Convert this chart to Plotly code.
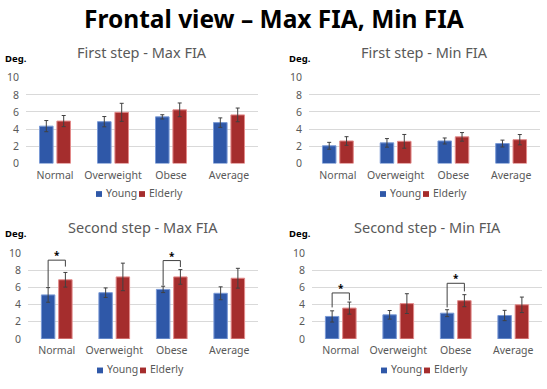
import plotly.graph_objects as go

# ---------------- data ----------------
categories = ["Normal", "Overweight", "Obese", "Average"]
series_names = ["Young", "Elderly"]

panel_titles = ["First step - Max FIA", "First step - Min FIA",
                "Second step - Max FIA", "Second step - Min FIA"]

first_max_young = [4.35, 4.87, 5.43, 4.76]
first_max_young_err = [0.65, 0.60, 0.25, 0.55]
first_max_elderly = [4.94, 5.96, 6.25, 5.66]
first_max_elderly_err = [0.65, 1.05, 0.80, 0.80]

first_min_young = [2.06, 2.40, 2.62, 2.32]
first_min_young_err = [0.40, 0.50, 0.35, 0.40]
first_min_elderly = [2.62, 2.58, 3.10, 2.77]
first_min_elderly_err = [0.50, 0.80, 0.50, 0.60]

second_max_young = [5.11, 5.37, 5.75, 5.30]
second_max_young_err = [0.85, 0.55, 0.37, 0.75]
second_max_elderly = [6.87, 7.20, 7.20, 7.05]
second_max_elderly_err = [0.85, 1.60, 0.85, 1.15]

second_min_young = [2.61, 2.80, 2.99, 2.72]
second_min_young_err = [0.65, 0.50, 0.40, 0.60]
second_min_elderly = [3.58, 4.10, 4.44, 3.96]
second_min_elderly_err = [0.70, 1.15, 0.70, 0.90]

# significance brackets: (category index, left leg bottom, right leg bottom, bracket top)
second_max_sig = [(0, 6.05, 8.40, 9.15), (2, 6.20, 8.35, 9.10)]
second_min_sig = [(0, 3.66, 4.48, 5.34), (2, 3.66, 5.52, 6.46)]

y_ticks = [0, 2, 4, 6, 8, 10]

# ---------------- style ----------------
W, H = 547, 389
BLUE = "#2F58A8"
BLUE_EDGE = "#7A9AD6"
RED = "#A52D2D"
RED_EDGE = "#E38A8A"
GRID = "#D9D9D9"
TEXT = "#595959"
ERR = "#404040"
FONT = "Noto Sans"
BARGAP = 0.40
BARGROUPGAP = 0.22

# pixel boxes of each plot area (x0, x1, ytop, ybottom)
boxes = [(26, 258, 73.3, 162.3), (309, 540, 73.3, 162.3),
         (28, 258, 255, 344.3), (312, 542, 255, 344.3)]
title_y = [47, 47, 228, 228]
deg_pos = [(3, 53), (287, 53), (3, 235), (287, 235)]
legend_pos = [(136, 194), (420, 194), (137, 377), (421, 377)]

panels = [
    (first_max_young, first_max_young_err, first_max_elderly, first_max_elderly_err, []),
    (first_min_young, first_min_young_err, first_min_elderly, first_min_elderly_err, []),
    (second_max_young, second_max_young_err, second_max_elderly, second_max_elderly_err, second_max_sig),
    (second_min_young, second_min_young_err, second_min_elderly, second_min_elderly_err, second_min_sig),
]

fig = go.Figure()
annotations = []
shapes = []
layout = {}

half_slot = (1 - BARGAP) / 4.0  # offset of each bar center from category center


def px_x(v):
    return v / W


def px_y(v):
    return 1 - v / H


for i, (yv, ye, ev, ee, sig) in enumerate(panels):
    n = i + 1
    sfx = "" if n == 1 else str(n)
    xa, ya = "x" + sfx, "y" + sfx
    for name, vals, errs, col, edge in [("Young", yv, ye, BLUE, BLUE_EDGE),
                                        ("Elderly", ev, ee, RED, RED_EDGE)]:
        fig.add_trace(go.Bar(
            x=categories, y=vals, name=name, xaxis=xa, yaxis=ya,
            marker=dict(color=col, line=dict(color=edge, width=1)),
            error_y=dict(type="data", array=errs, visible=True, color=ERR,
                         thickness=1, width=2),
            showlegend=False,
        ))
    x0, x1, yt, yb = boxes[i]
    layout["xaxis" + sfx] = dict(
        domain=[px_x(x0), px_x(x1)], anchor=ya, type="category",
        showgrid=False, showline=False, zeroline=False, ticks="",
        tickfont=dict(size=10.5, color=TEXT, family=FONT),
        ticklabelstandoff=4, fixedrange=True,
    )
    layout["yaxis" + sfx] = dict(
        domain=[px_y(yb), px_y(yt)], anchor=xa, range=[0, 10],
        tickvals=y_ticks, showgrid=True, gridcolor=GRID, gridwidth=1,
        zeroline=False, showline=False, ticks="",
        tickfont=dict(size=10.5, color=TEXT, family=FONT),
        ticklabelstandoff=6, fixedrange=True,
    )
    # legend (square swatch + text) per panel
    lx, ly = legend_pos[i]
    for (sq0, tx, col, name) in [(-40, -32, BLUE, series_names[0]),
                                 (3, 11, RED, series_names[1])]:
        shapes.append(dict(type="rect", xref="paper", yref="paper",
                           x0=px_x(lx + sq0), x1=px_x(lx + sq0 + 6),
                           y0=px_y(ly + 3), y1=px_y(ly - 3),
                           fillcolor=col, line=dict(width=0)))
        annotations.append(dict(
            text=name, xref="paper", yref="paper", x=px_x(lx + tx), y=px_y(ly - 1),
            xanchor="left", yanchor="middle", showarrow=False,
            font=dict(size=10.5, color=TEXT, family=FONT),
        ))
    annotations.append(dict(
        text=panel_titles[i], xref="paper", yref="paper",
        x=px_x((x0 + x1) / 2), y=px_y(title_y[i]), xanchor="center", yanchor="middle",
        showarrow=False, font=dict(size=14.5, color=TEXT, family=FONT),
    ))
    dx, dy = deg_pos[i]
    annotations.append(dict(
        text="<b>Deg.</b>", xref="paper", yref="paper",
        x=px_x(dx), y=px_y(dy), xanchor="left", yanchor="middle",
        showarrow=False, font=dict(size=9.5, color="#000000", family=FONT),
    ))
    for (ci, lb, rb, top) in sig:
        xl = ci - half_slot
        xr = ci + half_slot
        for (ax0, ay0, ax1, ay1) in [(xl, lb, xl, top), (xl, top, xr, top), (xr, top, xr, rb)]:
            shapes.append(dict(type="line", xref=xa, yref=ya, x0=ax0, y0=ay0, x1=ax1, y1=ay1,
                               line=dict(color=ERR, width=1)))
        annotations.append(dict(
            text="<b>*</b>", xref=xa, yref=ya, x=ci, y=top, yshift=5,
            xanchor="center", yanchor="middle", showarrow=False,
            font=dict(size=10, color="#000000", family=FONT),
        ))

annotations.append(dict(
    text="<b>Frontal view – Max FIA, Min FIA</b>", xref="paper", yref="paper",
    x=0.5, y=px_y(12), xanchor="center", yanchor="middle", showarrow=False,
    font=dict(size=24.5, color="#000000", family=FONT),
))

fig.update_layout(
    width=W, height=H, margin=dict(l=0, r=0, t=0, b=0),
    paper_bgcolor="white", plot_bgcolor="white",
    barmode="group", bargap=BARGAP, bargroupgap=BARGROUPGAP,
    annotations=annotations, shapes=shapes, showlegend=False,
    font=dict(family=FONT),
    **layout,
)

fig.write_html("out.html", config={"displayModeBar": False},
               post_script="document.body.style.margin='0px';document.body.style.overflow='hidden';")
